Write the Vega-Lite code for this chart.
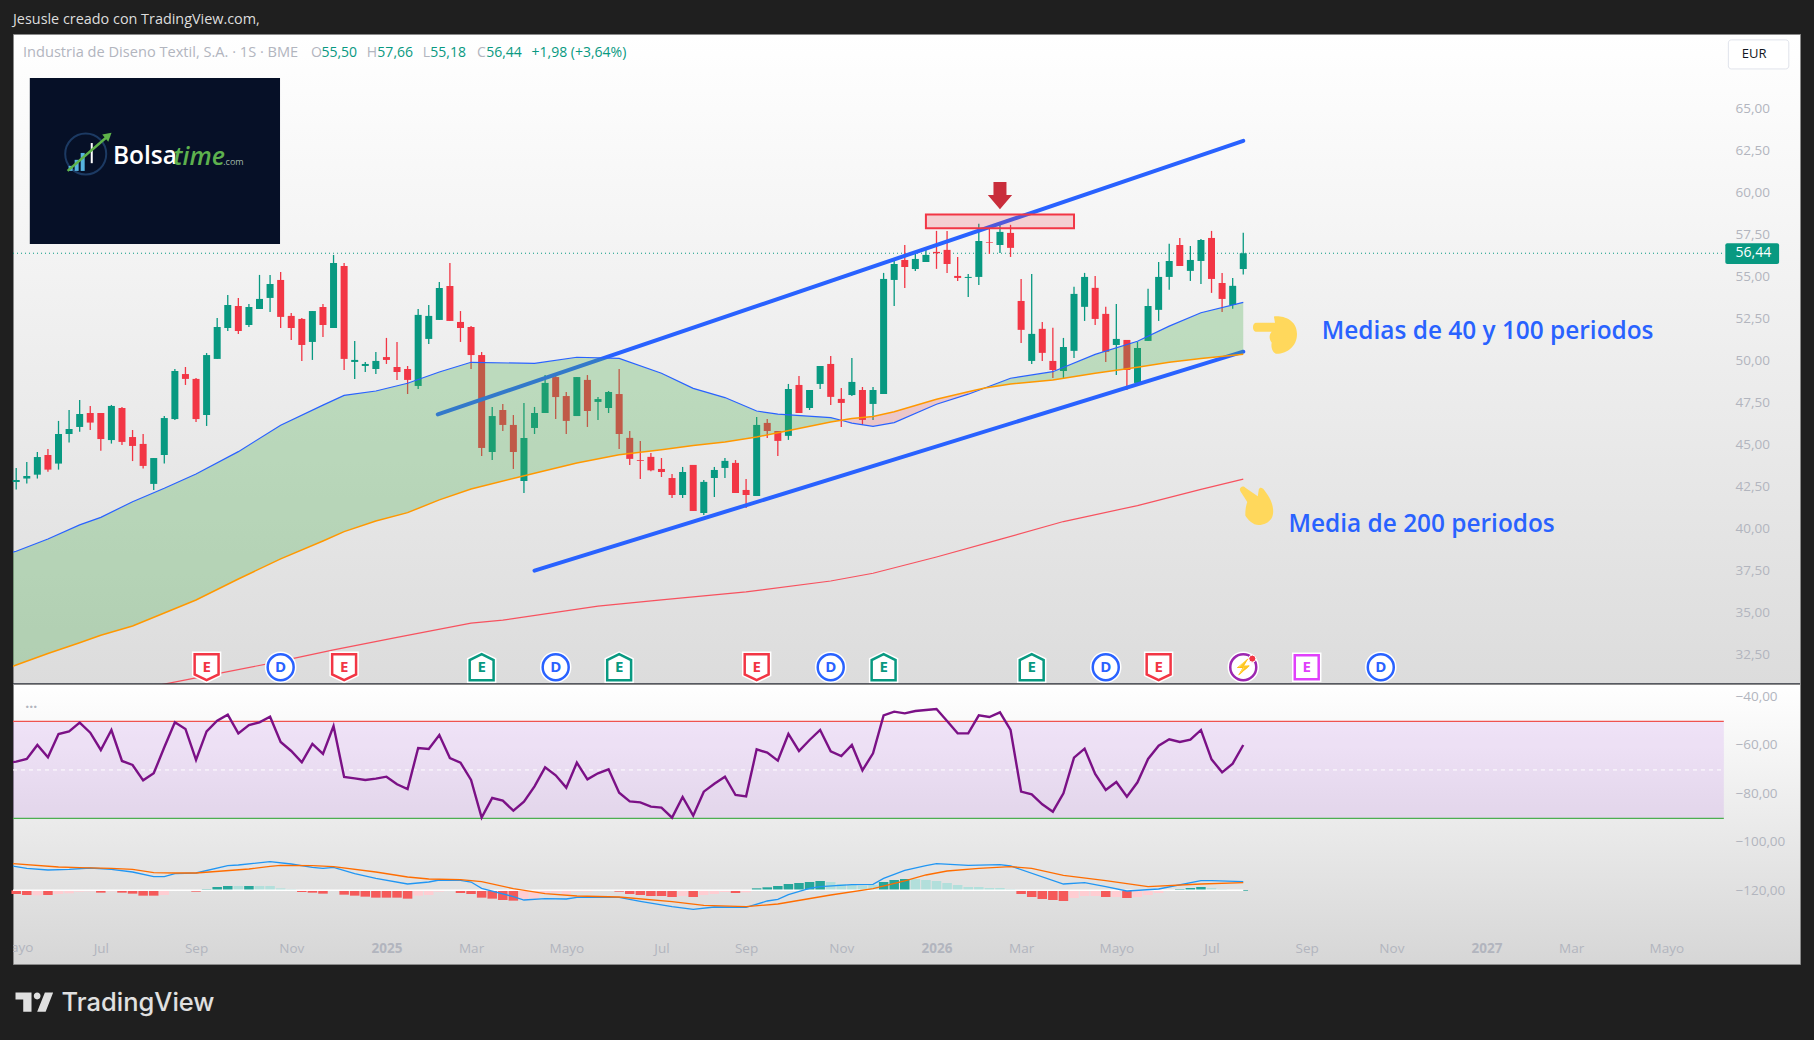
{
  "$schema": "https://vega.github.io/schema/vega-lite/v6.json",
  "background": "#1f1f1f",
  "padding": {"left": 10, "top": 11, "right": 17, "bottom": 27},
  "spacing": 0,
  "bounds": "flush",
  "config": {
    "font": "Open Sans",
    "axis": {"title": null, "grid": false, "domain": false, "ticks": false, "labelColor": "#b2b5be", "labelFont": "Open Sans", "labelFontSize": 13.5}
  },
  "datasets": {
    "velas": [
      {"d":"2024-05-06","o":42.83,"h":43.66,"l":42.37,"c":42.95},{"d":"2024-05-13","o":43.03,"h":44.02,"l":42.73,"c":43.18},{"d":"2024-05-20","o":43.26,"h":44.61,"l":43.03,"c":44.31},{"d":"2024-05-27","o":44.43,"h":44.79,"l":43.44,"c":43.56},{"d":"2024-06-03","o":43.92,"h":46.46,"l":43.56,"c":45.68},{"d":"2024-06-10","o":45.68,"h":47.11,"l":45.17,"c":45.98},{"d":"2024-06-17","o":46.10,"h":47.71,"l":45.82,"c":46.87},{"d":"2024-06-24","o":46.93,"h":47.35,"l":45.92,"c":46.36},{"d":"2024-07-01","o":46.93,"h":46.93,"l":44.69,"c":45.38},{"d":"2024-07-08","o":45.32,"h":47.41,"l":45.11,"c":47.35},{"d":"2024-07-15","o":47.23,"h":47.29,"l":45.03,"c":45.21},{"d":"2024-07-22","o":45.50,"h":45.92,"l":44.07,"c":44.97},{"d":"2024-07-29","o":45.09,"h":45.68,"l":43.62,"c":43.78},{"d":"2024-08-05","o":42.71,"h":44.25,"l":42.35,"c":44.25},{"d":"2024-08-12","o":44.43,"h":46.75,"l":43.92,"c":46.63},{"d":"2024-08-19","o":46.57,"h":49.55,"l":46.51,"c":49.43},{"d":"2024-08-26","o":49.25,"h":49.67,"l":48.60,"c":48.96},{"d":"2024-09-02","o":48.96,"h":49.01,"l":46.40,"c":46.57},{"d":"2024-09-09","o":46.81,"h":50.50,"l":46.16,"c":50.38},{"d":"2024-09-16","o":50.15,"h":52.59,"l":50.15,"c":52.05},{"d":"2024-09-23","o":51.99,"h":53.96,"l":51.81,"c":53.36},{"d":"2024-09-30","o":53.30,"h":53.78,"l":51.63,"c":51.81},{"d":"2024-10-07","o":52.17,"h":53.42,"l":52.05,"c":53.24},{"d":"2024-10-14","o":53.12,"h":55.15,"l":53.12,"c":53.72},{"d":"2024-10-21","o":53.78,"h":55.15,"l":52.94,"c":54.61},{"d":"2024-10-28","o":54.85,"h":55.32,"l":51.99,"c":52.65},{"d":"2024-11-04","o":52.71,"h":52.88,"l":51.28,"c":51.99},{"d":"2024-11-11","o":52.53,"h":52.59,"l":50.03,"c":50.98},{"d":"2024-11-18","o":51.16,"h":53.00,"l":50.09,"c":53.00},{"d":"2024-11-25","o":53.24,"h":53.42,"l":51.46,"c":52.17},{"d":"2024-12-02","o":51.99,"h":56.34,"l":51.99,"c":55.86},{"d":"2024-12-09","o":55.68,"h":55.86,"l":49.49,"c":50.15},{"d":"2024-12-16","o":49.97,"h":51.22,"l":48.96,"c":50.09},{"d":"2024-12-23","o":49.73,"h":49.97,"l":49.37,"c":49.85},{"d":"2024-12-30","o":49.55,"h":50.56,"l":49.25,"c":50.03},{"d":"2025-01-06","o":50.26,"h":51.40,"l":49.85,"c":50.09},{"d":"2025-01-13","o":49.67,"h":51.16,"l":48.90,"c":49.37},{"d":"2025-01-20","o":49.55,"h":49.73,"l":48.06,"c":48.90},{"d":"2025-01-27","o":48.54,"h":53.12,"l":48.36,"c":52.77},{"d":"2025-02-03","o":51.34,"h":53.36,"l":51.04,"c":52.71},{"d":"2025-02-10","o":52.47,"h":54.73,"l":52.47,"c":54.37},{"d":"2025-02-17","o":54.49,"h":55.86,"l":52.41,"c":52.41},{"d":"2025-02-24","o":52.35,"h":53.00,"l":51.16,"c":51.99},{"d":"2025-03-03","o":52.05,"h":52.11,"l":49.55,"c":50.38},{"d":"2025-03-10","o":50.38,"h":50.56,"l":44.37,"c":44.85},{"d":"2025-03-17","o":44.61,"h":47.29,"l":44.13,"c":46.75},{"d":"2025-03-24","o":47.11,"h":47.47,"l":45.86,"c":46.22},{"d":"2025-03-31","o":46.22,"h":46.81,"l":43.60,"c":44.61},{"d":"2025-04-07","o":42.88,"h":47.53,"l":42.17,"c":45.44},{"d":"2025-04-14","o":46.04,"h":47.29,"l":45.68,"c":46.93},{"d":"2025-04-21","o":46.93,"h":49.19,"l":46.93,"c":48.72},{"d":"2025-04-28","o":49.07,"h":49.31,"l":46.57,"c":47.88},{"d":"2025-05-05","o":47.94,"h":48.18,"l":45.68,"c":46.46},{"d":"2025-05-12","o":46.75,"h":49.07,"l":46.75,"c":49.07},{"d":"2025-05-19","o":48.90,"h":49.19,"l":46.10,"c":47.05},{"d":"2025-05-26","o":47.59,"h":47.88,"l":46.51,"c":47.76},{"d":"2025-06-02","o":47.23,"h":48.24,"l":46.93,"c":48.18},{"d":"2025-06-09","o":48.06,"h":49.55,"l":44.79,"c":45.68},{"d":"2025-06-16","o":45.45,"h":45.86,"l":43.84,"c":44.20},{"d":"2025-06-23","o":44.13,"h":45.27,"l":43.00,"c":44.08},{"d":"2025-06-30","o":44.32,"h":44.55,"l":43.46,"c":43.52},{"d":"2025-07-07","o":43.60,"h":44.25,"l":43.12,"c":43.42},{"d":"2025-07-14","o":43.06,"h":43.30,"l":41.87,"c":42.05},{"d":"2025-07-21","o":42.05,"h":43.72,"l":41.87,"c":43.42},{"d":"2025-07-28","o":43.84,"h":43.84,"l":41.10,"c":41.10},{"d":"2025-08-04","o":40.98,"h":42.94,"l":40.86,"c":42.83},{"d":"2025-08-11","o":43.06,"h":43.72,"l":41.93,"c":43.54},{"d":"2025-08-18","o":43.66,"h":44.25,"l":43.06,"c":44.08},{"d":"2025-08-25","o":43.96,"h":44.13,"l":42.17,"c":42.17},{"d":"2025-09-01","o":42.35,"h":43.00,"l":41.28,"c":42.05},{"d":"2025-09-08","o":41.99,"h":46.69,"l":41.99,"c":46.22},{"d":"2025-09-15","o":46.34,"h":46.58,"l":45.45,"c":45.86},{"d":"2025-09-22","o":45.86,"h":45.86,"l":44.37,"c":45.27},{"d":"2025-09-29","o":45.57,"h":48.66,"l":45.33,"c":48.36},{"d":"2025-10-06","o":48.60,"h":49.13,"l":46.93,"c":46.93},{"d":"2025-10-13","o":47.23,"h":48.30,"l":47.11,"c":48.30},{"d":"2025-10-20","o":48.66,"h":49.73,"l":48.36,"c":49.73},{"d":"2025-10-27","o":49.85,"h":50.33,"l":47.41,"c":47.89},{"d":"2025-11-03","o":47.77,"h":48.42,"l":46.10,"c":47.53},{"d":"2025-11-10","o":48.00,"h":50.21,"l":47.94,"c":48.78},{"d":"2025-11-17","o":48.30,"h":48.48,"l":46.22,"c":46.52},{"d":"2025-11-24","o":47.47,"h":48.48,"l":46.52,"c":48.30},{"d":"2025-12-01","o":48.06,"h":55.27,"l":48.06,"c":54.91},{"d":"2025-12-08","o":54.85,"h":56.04,"l":53.30,"c":55.80},{"d":"2025-12-15","o":56.04,"h":56.93,"l":54.37,"c":55.62},{"d":"2025-12-22","o":55.50,"h":56.40,"l":55.38,"c":56.10},{"d":"2025-12-29","o":55.92,"h":56.75,"l":55.92,"c":56.34},{"d":"2026-01-05","o":56.52,"h":57.77,"l":55.51,"c":56.44},{"d":"2026-01-12","o":56.64,"h":57.77,"l":55.27,"c":55.80},{"d":"2026-01-19","o":55.09,"h":56.22,"l":54.79,"c":54.97},{"d":"2026-01-26","o":54.97,"h":55.21,"l":53.84,"c":55.03},{"d":"2026-02-02","o":55.03,"h":58.19,"l":54.55,"c":57.17},{"d":"2026-02-09","o":57.11,"h":58.07,"l":56.40,"c":57.07},{"d":"2026-02-16","o":56.93,"h":58.30,"l":56.46,"c":57.71},{"d":"2026-02-23","o":57.65,"h":58.13,"l":56.22,"c":56.76},{"d":"2026-03-02","o":53.60,"h":54.91,"l":51.10,"c":51.88},{"d":"2026-03-09","o":50.03,"h":55.21,"l":49.85,"c":51.64},{"d":"2026-03-16","o":51.94,"h":52.35,"l":50.03,"c":50.51},{"d":"2026-03-23","o":50.03,"h":52.00,"l":49.02,"c":49.49},{"d":"2026-03-30","o":49.43,"h":51.40,"l":49.02,"c":50.86},{"d":"2026-04-06","o":50.63,"h":54.44,"l":50.21,"c":54.02},{"d":"2026-04-13","o":53.25,"h":55.27,"l":52.41,"c":55.03},{"d":"2026-04-20","o":54.38,"h":55.09,"l":52.17,"c":52.53},{"d":"2026-04-27","o":52.83,"h":53.25,"l":49.97,"c":50.57},{"d":"2026-05-04","o":50.98,"h":53.42,"l":49.20,"c":51.34},{"d":"2026-05-11","o":51.28,"h":51.28,"l":48.30,"c":49.49},{"d":"2026-05-18","o":48.72,"h":51.16,"l":48.72,"c":50.80},{"d":"2026-05-25","o":51.22,"h":54.32,"l":51.22,"c":53.30},{"d":"2026-06-01","o":53.07,"h":55.92,"l":52.41,"c":55.03},{"d":"2026-06-08","o":55.03,"h":57.00,"l":54.26,"c":55.98},{"d":"2026-06-15","o":56.93,"h":57.35,"l":55.68,"c":55.68},{"d":"2026-06-22","o":55.39,"h":56.87,"l":54.79,"c":56.04},{"d":"2026-06-29","o":55.98,"h":57.29,"l":54.61,"c":57.23},{"d":"2026-07-06","o":57.35,"h":57.77,"l":54.08,"c":54.91},{"d":"2026-07-13","o":54.67,"h":55.27,"l":52.95,"c":53.72},{"d":"2026-07-20","o":53.36,"h":54.97,"l":53.13,"c":54.50},{"d":"2026-07-27","o":55.50,"h":57.66,"l":55.18,"c":56.44}
    ],
    "medias": [
      {"d":"2024-04-29","ma40":38.54,"ma100":31.7,"zona":"sobre"},{"d":"2024-05-06","ma40":38.70,"ma100":31.93,"zona":"sobre"},{"d":"2024-05-27","ma40":39.43,"ma100":32.62,"zona":"sobre"},{"d":"2024-06-17","ma40":40.27,"ma100":33.26,"zona":"sobre"},{"d":"2024-07-01","ma40":40.72,"ma100":33.7,"zona":"sobre"},{"d":"2024-07-22","ma40":41.65,"ma100":34.25,"zona":"sobre"},{"d":"2024-08-12","ma40":42.45,"ma100":35.03,"zona":"sobre"},{"d":"2024-09-02","ma40":43.30,"ma100":35.80,"zona":"sobre"},{"d":"2024-09-30","ma40":44.63,"ma100":37.05,"zona":"sobre"},{"d":"2024-10-28","ma40":46.2,"ma100":38.25,"zona":"sobre"},{"d":"2024-11-25","ma40":47.4,"ma100":39.31,"zona":"sobre"},{"d":"2024-12-09","ma40":47.98,"ma100":39.87,"zona":"sobre"},{"d":"2024-12-30","ma40":48.24,"ma100":40.5,"zona":"sobre"},{"d":"2025-01-20","ma40":48.70,"ma100":41.0,"zona":"sobre"},{"d":"2025-02-10","ma40":49.37,"ma100":41.76,"zona":"sobre"},{"d":"2025-03-03","ma40":49.95,"ma100":42.41,"zona":"sobre"},{"d":"2025-04-14","ma40":49.88,"ma100":43.35,"zona":"sobre"},{"d":"2025-05-12","ma40":50.25,"ma100":43.95,"zona":"sobre"},{"d":"2025-06-09","ma40":50.18,"ma100":44.45,"zona":"sobre"},{"d":"2025-07-07","ma40":49.30,"ma100":44.75,"zona":"sobre"},{"d":"2025-07-28","ma40":48.40,"ma100":45.0,"zona":"sobre"},{"d":"2025-08-18","ma40":47.85,"ma100":45.2,"zona":"sobre"},{"d":"2025-09-08","ma40":47.05,"ma100":45.5,"zona":"sobre"},{"d":"2025-09-22","ma40":46.86,"ma100":45.75,"zona":"sobre"},{"d":"2025-10-27","ma40":46.66,"ma100":46.4,"zona":"sobre"},{"d":"2025-11-03","ma40":46.5,"ma100":46.5,"zona":"sobre"},
      {"d":"2025-11-03","ma40":46.5,"ma100":46.5,"zona":"bajo"},{"d":"2025-11-10","ma40":46.33,"ma100":46.6,"zona":"bajo"},{"d":"2025-11-24","ma40":46.14,"ma100":46.72,"zona":"bajo"},{"d":"2025-12-08","ma40":46.36,"ma100":47.0,"zona":"bajo"},{"d":"2026-01-05","ma40":47.45,"ma100":47.75,"zona":"bajo"},{"d":"2026-01-26","ma40":48.05,"ma100":48.2,"zona":"bajo"},{"d":"2026-02-06","ma40":48.42,"ma100":48.42,"zona":"bajo"},
      {"d":"2026-02-06","ma40":48.42,"ma100":48.42,"zona":"sobre"},{"d":"2026-02-23","ma40":49.0,"ma100":48.66,"zona":"sobre"},{"d":"2026-03-23","ma40":49.39,"ma100":48.9,"zona":"sobre"},{"d":"2026-04-20","ma40":50.42,"ma100":49.3,"zona":"sobre"},{"d":"2026-05-18","ma40":51.2,"ma100":49.65,"zona":"sobre"},{"d":"2026-06-08","ma40":52.1,"ma100":49.95,"zona":"sobre"},{"d":"2026-06-29","ma40":52.9,"ma100":50.18,"zona":"sobre"},{"d":"2026-07-27","ma40":53.52,"ma100":50.43,"zona":"sobre"}
    ],
    "media200": [
      {"d":"2024-07-29","p":30.55},{"d":"2024-09-02","p":31.16},{"d":"2024-10-21","p":32.03},{"d":"2024-12-02","p":32.83},{"d":"2025-01-13","p":33.58},{"d":"2025-03-03","p":34.42},{"d":"2025-03-24","p":34.6},{"d":"2025-05-26","p":35.44},{"d":"2025-07-07","p":35.81},{"d":"2025-09-01","p":36.28},{"d":"2025-10-27","p":36.93},{"d":"2025-11-24","p":37.39},{"d":"2026-01-05","p":38.36},{"d":"2026-02-16","p":39.41},{"d":"2026-03-30","p":40.47},{"d":"2026-05-18","p":41.42},{"d":"2026-06-29","p":42.38},{"d":"2026-07-27","p":42.99}
    ],
    "canales": [
      {"d":"2025-02-09","p":46.85,"canal":"alto"},{"d":"2026-07-27","p":63.13,"canal":"alto"},
      {"d":"2025-04-14","p":37.55,"canal":"bajo"},{"d":"2026-07-27","p":50.58,"canal":"bajo"}
    ],
    "eventos": [
      {"d":"2024-09-09","p":31.8,"tipo":"E-","letra":"E"},{"d":"2024-10-28","p":31.8,"tipo":"D","letra":"D"},{"d":"2024-12-09","p":31.8,"tipo":"E-","letra":"E"},{"d":"2025-03-10","p":31.8,"tipo":"E+","letra":"E"},{"d":"2025-04-28","p":31.8,"tipo":"D","letra":"D"},{"d":"2025-06-09","p":31.8,"tipo":"E+","letra":"E"},{"d":"2025-09-08","p":31.8,"tipo":"E-","letra":"E"},{"d":"2025-10-27","p":31.8,"tipo":"D","letra":"D"},{"d":"2025-12-01","p":31.8,"tipo":"E+","letra":"E"},{"d":"2026-03-09","p":31.8,"tipo":"E+","letra":"E"},{"d":"2026-04-27","p":31.8,"tipo":"D","letra":"D"},{"d":"2026-06-01","p":31.8,"tipo":"E-","letra":"E"},{"d":"2026-07-27","p":31.8,"tipo":"X","letra":"⚡"},{"d":"2026-09-07","p":31.8,"tipo":"E?","letra":"E"},{"d":"2026-10-26","p":31.8,"tipo":"D","letra":"D"}
    ],
    "cabecera": [
      {"d":"2024-11-17","p":68.35,"t":"O","tono":"gris"},{"d":"2024-11-24","p":68.35,"t":"55,50","tono":"verde"},
      {"d":"2024-12-24","p":68.35,"t":"H","tono":"gris"},{"d":"2024-12-31","p":68.35,"t":"57,66","tono":"verde"},
      {"d":"2025-01-30","p":68.35,"t":"L","tono":"gris"},{"d":"2025-02-04","p":68.35,"t":"55,18","tono":"verde"},
      {"d":"2025-03-07","p":68.35,"t":"C","tono":"gris"},{"d":"2025-03-13","p":68.35,"t":"56,44","tono":"verde"},
      {"d":"2025-04-12","p":68.35,"t":"+1,98 (+3,64%)","tono":"verde"}
    ],
    "rsi": [
      {"d":"2024-04-29","p":-67.27},{"d":"2024-05-06","p":-66.58},{"d":"2024-05-13","p":-65.48},{"d":"2024-05-20","p":-59.71},{"d":"2024-05-27","p":-64.80},{"d":"2024-06-03","p":-55.17},{"d":"2024-06-10","p":-54.07},{"d":"2024-06-17","p":-50.50},{"d":"2024-06-24","p":-54.62},{"d":"2024-07-01","p":-61.77},{"d":"2024-07-08","p":-53.53},{"d":"2024-07-15","p":-66.31},{"d":"2024-07-22","p":-67.96},{"d":"2024-07-29","p":-74.28},{"d":"2024-08-05","p":-71.39},{"d":"2024-08-12","p":-60.67},{"d":"2024-08-19","p":-50.36},{"d":"2024-08-26","p":-53.11},{"d":"2024-09-02","p":-65.90},{"d":"2024-09-09","p":-54.07},{"d":"2024-09-16","p":-49.68},{"d":"2024-09-23","p":-47.20},{"d":"2024-09-30","p":-54.90},{"d":"2024-10-07","p":-51.46},{"d":"2024-10-14","p":-50.36},{"d":"2024-10-21","p":-48.03},{"d":"2024-10-28","p":-58.47},{"d":"2024-11-04","p":-62.18},{"d":"2024-11-11","p":-66.86},{"d":"2024-11-18","p":-59.30},{"d":"2024-11-25","p":-63.42},{"d":"2024-12-02","p":-51.88},{"d":"2024-12-09","p":-72.91},{"d":"2024-12-16","p":-73.46},{"d":"2024-12-23","p":-74.14},{"d":"2024-12-30","p":-73.59},{"d":"2025-01-06","p":-72.77},{"d":"2025-01-13","p":-75.93},{"d":"2025-01-20","p":-77.85},{"d":"2025-01-27","p":-60.95},{"d":"2025-02-03","p":-61.36},{"d":"2025-02-10","p":-55.59},{"d":"2025-02-17","p":-65.07},{"d":"2025-02-24","p":-67.0},{"d":"2025-03-03","p":-74.14},{"d":"2025-03-10","p":-89.68},{"d":"2025-03-17","p":-81.57},{"d":"2025-03-24","p":-82.67},{"d":"2025-03-31","p":-86.79},{"d":"2025-04-07","p":-83.08},{"d":"2025-04-14","p":-76.76},{"d":"2025-04-21","p":-68.92},{"d":"2025-04-28","p":-72.22},{"d":"2025-05-05","p":-77.30},{"d":"2025-05-12","p":-67.0},{"d":"2025-05-19","p":-73.87},{"d":"2025-05-26","p":-71.39},{"d":"2025-06-02","p":-69.74},{"d":"2025-06-09","p":-79.37},{"d":"2025-06-16","p":-82.94},{"d":"2025-06-23","p":-83.35},{"d":"2025-06-30","p":-85.14},{"d":"2025-07-07","p":-85.55},{"d":"2025-07-14","p":-89.68},{"d":"2025-07-21","p":-81.15},{"d":"2025-07-28","p":-88.85},{"d":"2025-08-04","p":-78.95},{"d":"2025-08-11","p":-75.66},{"d":"2025-08-18","p":-72.77},{"d":"2025-08-25","p":-80.33},{"d":"2025-09-01","p":-80.88},{"d":"2025-09-08","p":-61.50},{"d":"2025-09-15","p":-62.87},{"d":"2025-09-22","p":-66.17},{"d":"2025-09-29","p":-55.17},{"d":"2025-10-06","p":-62.18},{"d":"2025-10-13","p":-57.65},{"d":"2025-10-20","p":-53.52},{"d":"2025-10-27","p":-62.32},{"d":"2025-11-03","p":-64.25},{"d":"2025-11-10","p":-59.71},{"d":"2025-11-17","p":-70.16},{"d":"2025-11-24","p":-63.15},{"d":"2025-12-01","p":-47.48},{"d":"2025-12-08","p":-45.96},{"d":"2025-12-15","p":-46.65},{"d":"2025-12-22","p":-45.69},{"d":"2025-12-29","p":-45.28},{"d":"2026-01-05","p":-44.87},{"d":"2026-01-12","p":-49.81},{"d":"2026-01-19","p":-54.90},{"d":"2026-01-26","p":-54.90},{"d":"2026-02-02","p":-47.48},{"d":"2026-02-09","p":-48.16},{"d":"2026-02-16","p":-46.24},{"d":"2026-02-23","p":-53.52},{"d":"2026-03-02","p":-78.95},{"d":"2026-03-09","p":-80.05},{"d":"2026-03-16","p":-84.18},{"d":"2026-03-23","p":-87.20},{"d":"2026-03-30","p":-79.64},{"d":"2026-04-06","p":-64.93},{"d":"2026-04-13","p":-61.22},{"d":"2026-04-20","p":-71.67},{"d":"2026-04-27","p":-78.27},{"d":"2026-05-04","p":-74.97},{"d":"2026-05-11","p":-81.02},{"d":"2026-05-18","p":-75.11},{"d":"2026-05-25","p":-65.48},{"d":"2026-06-01","p":-59.99},{"d":"2026-06-08","p":-57.37},{"d":"2026-06-15","p":-58.47},{"d":"2026-06-22","p":-57.51},{"d":"2026-06-29","p":-53.52},{"d":"2026-07-06","p":-65.62},{"d":"2026-07-13","p":-70.98},{"d":"2026-07-20","p":-67.41},{"d":"2026-07-27","p":-59.71}
    ],
    "macd": [
      {"d":"2024-04-29","p":-109.19,"serie":"macd"},{"d":"2024-05-13","p":-110.57,"serie":"macd"},{"d":"2024-05-27","p":-111.26,"serie":"macd"},{"d":"2024-06-10","p":-110.98,"serie":"macd"},{"d":"2024-06-24","p":-110.43,"serie":"macd"},{"d":"2024-07-08","p":-110.98,"serie":"macd"},{"d":"2024-07-22","p":-112.08,"serie":"macd"},{"d":"2024-08-05","p":-114.01,"serie":"macd"},{"d":"2024-08-12","p":-114.01,"serie":"macd"},{"d":"2024-08-19","p":-112.77,"serie":"macd"},{"d":"2024-09-02","p":-112.49,"serie":"macd"},{"d":"2024-09-23","p":-109.47,"serie":"macd"},{"d":"2024-09-30","p":-109.19,"serie":"macd"},{"d":"2024-10-21","p":-107.82,"serie":"macd"},{"d":"2024-11-04","p":-108.78,"serie":"macd"},{"d":"2024-11-18","p":-110.16,"serie":"macd"},{"d":"2024-11-25","p":-110.57,"serie":"macd"},{"d":"2024-12-02","p":-110.16,"serie":"macd"},{"d":"2024-12-16","p":-112.77,"serie":"macd"},{"d":"2024-12-30","p":-114.69,"serie":"macd"},{"d":"2025-01-20","p":-117.03,"serie":"macd"},{"d":"2025-02-03","p":-116.21,"serie":"macd"},{"d":"2025-02-10","p":-115.38,"serie":"macd"},{"d":"2025-02-24","p":-115.52,"serie":"macd"},{"d":"2025-03-03","p":-116.21,"serie":"macd"},{"d":"2025-03-10","p":-118.82,"serie":"macd"},{"d":"2025-03-31","p":-122.25,"serie":"macd"},{"d":"2025-04-07","p":-123.63,"serie":"macd"},{"d":"2025-04-21","p":-123.08,"serie":"macd"},{"d":"2025-05-05","p":-123.22,"serie":"macd"},{"d":"2025-05-12","p":-122.53,"serie":"macd"},{"d":"2025-06-09","p":-122.53,"serie":"macd"},{"d":"2025-06-23","p":-124.18,"serie":"macd"},{"d":"2025-07-14","p":-126.38,"serie":"macd"},{"d":"2025-07-28","p":-127.48,"serie":"macd"},{"d":"2025-08-11","p":-126.51,"serie":"macd"},{"d":"2025-09-01","p":-126.65,"serie":"macd"},{"d":"2025-09-15","p":-124.04,"serie":"macd"},{"d":"2025-09-22","p":-123.35,"serie":"macd"},{"d":"2025-09-29","p":-121.43,"serie":"macd"},{"d":"2025-10-13","p":-118.82,"serie":"macd"},{"d":"2025-10-20","p":-118.13,"serie":"macd"},{"d":"2025-11-10","p":-117.30,"serie":"macd"},{"d":"2025-11-24","p":-117.17,"serie":"macd"},{"d":"2025-12-01","p":-114.69,"serie":"macd"},{"d":"2025-12-15","p":-111.39,"serie":"macd"},{"d":"2025-12-29","p":-109.47,"serie":"macd"},{"d":"2026-01-05","p":-108.65,"serie":"macd"},{"d":"2026-01-26","p":-109.33,"serie":"macd"},{"d":"2026-02-16","p":-109.06,"serie":"macd"},{"d":"2026-02-23","p":-109.61,"serie":"macd"},{"d":"2026-03-30","p":-117.03,"serie":"macd"},{"d":"2026-04-13","p":-116.48,"serie":"macd"},{"d":"2026-04-27","p":-118.13,"serie":"macd"},{"d":"2026-05-11","p":-119.92,"serie":"macd"},{"d":"2026-06-01","p":-119.09,"serie":"macd"},{"d":"2026-06-29","p":-115.66,"serie":"macd"},{"d":"2026-07-06","p":-115.66,"serie":"macd"},{"d":"2026-07-27","p":-116.07,"serie":"macd"},
      {"d":"2024-04-29","p":-108.37,"serie":"senal"},{"d":"2024-06-03","p":-110.02,"serie":"senal"},{"d":"2024-06-17","p":-110.29,"serie":"senal"},{"d":"2024-07-08","p":-110.57,"serie":"senal"},{"d":"2024-07-22","p":-110.98,"serie":"senal"},{"d":"2024-08-05","p":-112.36,"serie":"senal"},{"d":"2024-08-19","p":-112.49,"serie":"senal"},{"d":"2024-09-02","p":-112.49,"serie":"senal"},{"d":"2024-10-07","p":-110.84,"serie":"senal"},{"d":"2024-10-21","p":-109.75,"serie":"senal"},{"d":"2024-10-28","p":-109.33,"serie":"senal"},{"d":"2024-11-18","p":-109.47,"serie":"senal"},{"d":"2024-12-02","p":-109.88,"serie":"senal"},{"d":"2024-12-30","p":-112.08,"serie":"senal"},{"d":"2025-01-20","p":-114.14,"serie":"senal"},{"d":"2025-02-03","p":-114.97,"serie":"senal"},{"d":"2025-02-24","p":-115.24,"serie":"senal"},{"d":"2025-03-10","p":-116.07,"serie":"senal"},{"d":"2025-03-31","p":-118.95,"serie":"senal"},{"d":"2025-04-21","p":-121.02,"serie":"senal"},{"d":"2025-05-12","p":-121.98,"serie":"senal"},{"d":"2025-06-09","p":-122.39,"serie":"senal"},{"d":"2025-07-14","p":-124.32,"serie":"senal"},{"d":"2025-08-04","p":-125.83,"serie":"senal"},{"d":"2025-09-01","p":-126.38,"serie":"senal"},{"d":"2025-09-22","p":-125.28,"serie":"senal"},{"d":"2025-10-27","p":-121.57,"serie":"senal"},{"d":"2025-11-24","p":-118.95,"serie":"senal"},{"d":"2025-12-15","p":-115.79,"serie":"senal"},{"d":"2025-12-29","p":-113.32,"serie":"senal"},{"d":"2026-01-12","p":-111.67,"serie":"senal"},{"d":"2026-02-02","p":-110.57,"serie":"senal"},{"d":"2026-02-23","p":-109.88,"serie":"senal"},{"d":"2026-03-09","p":-110.57,"serie":"senal"},{"d":"2026-03-30","p":-113.46,"serie":"senal"},{"d":"2026-04-27","p":-115.66,"serie":"senal"},{"d":"2026-05-25","p":-118.13,"serie":"senal"},{"d":"2026-06-29","p":-117.03,"serie":"senal"},{"d":"2026-07-27","p":-116.48,"serie":"senal"}
    ],
    "hist": [
      {"d":"2024-05-06","p":-121.15,"tono":"S"},{"d":"2024-05-13","p":-121.56,"tono":"S"},{"d":"2024-05-20","p":-121.70,"tono":"L"},{"d":"2024-05-27","p":-121.56,"tono":"S"},{"d":"2024-06-03","p":-121.15,"tono":"L"},{"d":"2024-06-10","p":-120.88,"tono":"L"},{"d":"2024-06-17","p":-120.19,"tono":"L"},{"d":"2024-06-24","p":-120.05,"tono":"L"},{"d":"2024-07-01","p":-120.60,"tono":"S"},{"d":"2024-07-08","p":-120.05,"tono":"L"},{"d":"2024-07-15","p":-120.60,"tono":"S"},{"d":"2024-07-22","p":-121.01,"tono":"S"},{"d":"2024-07-29","p":-121.84,"tono":"S"},{"d":"2024-08-05","p":-121.84,"tono":"S"},{"d":"2024-08-12","p":-121.56,"tono":"L"},{"d":"2024-08-19","p":-119.91,"tono":"L"},{"d":"2024-08-26","p":-119.78,"tono":"L"},{"d":"2024-09-02","p":-120.19,"tono":"S"},{"d":"2024-09-09","p":-119.23,"tono":"GS"},{"d":"2024-09-16","p":-118.27,"tono":"GS"},{"d":"2024-09-23","p":-117.85,"tono":"GS"},{"d":"2024-09-30","p":-117.85,"tono":"GL"},{"d":"2024-10-07","p":-117.85,"tono":"GS"},{"d":"2024-10-14","p":-117.85,"tono":"GL"},{"d":"2024-10-21","p":-117.85,"tono":"GL"},{"d":"2024-10-28","p":-118.82,"tono":"GL"},{"d":"2024-11-04","p":-119.23,"tono":"GL"},{"d":"2024-11-11","p":-120.33,"tono":"S"},{"d":"2024-11-18","p":-120.60,"tono":"S"},{"d":"2024-11-25","p":-121.01,"tono":"S"},{"d":"2024-12-02","p":-119.91,"tono":"L"},{"d":"2024-12-09","p":-121.43,"tono":"S"},{"d":"2024-12-16","p":-121.84,"tono":"S"},{"d":"2024-12-23","p":-122.25,"tono":"S"},{"d":"2024-12-30","p":-122.66,"tono":"S"},{"d":"2025-01-06","p":-122.66,"tono":"S"},{"d":"2025-01-13","p":-122.66,"tono":"S"},{"d":"2025-01-20","p":-123.08,"tono":"S"},{"d":"2025-01-27","p":-121.84,"tono":"L"},{"d":"2025-02-03","p":-121.56,"tono":"L"},{"d":"2025-02-10","p":-120.19,"tono":"L"},{"d":"2025-02-17","p":-119.91,"tono":"L"},{"d":"2025-02-24","p":-120.74,"tono":"S"},{"d":"2025-03-03","p":-121.15,"tono":"S"},{"d":"2025-03-10","p":-122.66,"tono":"S"},{"d":"2025-03-17","p":-123.08,"tono":"S"},{"d":"2025-03-24","p":-123.63,"tono":"S"},{"d":"2025-03-31","p":-123.90,"tono":"S"},{"d":"2025-04-07","p":-123.08,"tono":"L"},{"d":"2025-04-14","p":-123.08,"tono":"L"},{"d":"2025-04-21","p":-121.15,"tono":"L"},{"d":"2025-04-28","p":-120.60,"tono":"L"},{"d":"2025-05-05","p":-121.15,"tono":"L"},{"d":"2025-05-12","p":-120.19,"tono":"L"},{"d":"2025-05-19","p":-120.19,"tono":"L"},{"d":"2025-05-26","p":-119.78,"tono":"L"},{"d":"2025-06-02","p":-119.91,"tono":"L"},{"d":"2025-06-09","p":-120.19,"tono":"S"},{"d":"2025-06-16","p":-121.15,"tono":"S"},{"d":"2025-06-23","p":-121.56,"tono":"S"},{"d":"2025-06-30","p":-121.98,"tono":"S"},{"d":"2025-07-07","p":-121.98,"tono":"S"},{"d":"2025-07-14","p":-122.39,"tono":"S"},{"d":"2025-07-21","p":-121.98,"tono":"L"},{"d":"2025-07-28","p":-122.39,"tono":"S"},{"d":"2025-08-04","p":-121.56,"tono":"L"},{"d":"2025-08-11","p":-121.15,"tono":"L"},{"d":"2025-08-18","p":-120.33,"tono":"L"},{"d":"2025-08-25","p":-120.74,"tono":"S"},{"d":"2025-09-01","p":-120.46,"tono":"L"},{"d":"2025-09-08","p":-118.82,"tono":"GS"},{"d":"2025-09-15","p":-118.40,"tono":"GS"},{"d":"2025-09-22","p":-117.85,"tono":"GS"},{"d":"2025-09-29","p":-117.03,"tono":"GS"},{"d":"2025-10-06","p":-116.62,"tono":"GS"},{"d":"2025-10-13","p":-116.20,"tono":"GS"},{"d":"2025-10-20","p":-115.79,"tono":"GS"},{"d":"2025-10-27","p":-116.20,"tono":"GL"},{"d":"2025-11-03","p":-117.03,"tono":"GL"},{"d":"2025-11-10","p":-117.44,"tono":"GL"},{"d":"2025-11-17","p":-117.72,"tono":"GL"},{"d":"2025-11-24","p":-117.44,"tono":"GL"},{"d":"2025-12-01","p":-116.20,"tono":"GS"},{"d":"2025-12-08","p":-115.38,"tono":"GS"},{"d":"2025-12-15","p":-114.97,"tono":"GS"},{"d":"2025-12-22","p":-114.97,"tono":"GL"},{"d":"2025-12-29","p":-115.38,"tono":"GL"},{"d":"2026-01-05","p":-115.79,"tono":"GL"},{"d":"2026-01-12","p":-116.62,"tono":"GL"},{"d":"2026-01-19","p":-117.44,"tono":"GL"},{"d":"2026-01-26","p":-118.27,"tono":"GL"},{"d":"2026-02-02","p":-118.27,"tono":"GL"},{"d":"2026-02-09","p":-118.68,"tono":"GL"},{"d":"2026-02-16","p":-118.68,"tono":"GL"},{"d":"2026-02-23","p":-119.23,"tono":"GL"},{"d":"2026-03-02","p":-121.15,"tono":"S"},{"d":"2026-03-09","p":-122.39,"tono":"S"},{"d":"2026-03-16","p":-123.21,"tono":"S"},{"d":"2026-03-23","p":-123.63,"tono":"S"},{"d":"2026-03-30","p":-124.04,"tono":"S"},{"d":"2026-04-06","p":-122.80,"tono":"L"},{"d":"2026-04-13","p":-121.98,"tono":"L"},{"d":"2026-04-20","p":-121.98,"tono":"L"},{"d":"2026-04-27","p":-122.39,"tono":"S"},{"d":"2026-05-04","p":-122.39,"tono":"L"},{"d":"2026-05-11","p":-122.80,"tono":"S"},{"d":"2026-05-18","p":-122.39,"tono":"L"},{"d":"2026-05-25","p":-121.56,"tono":"L"},{"d":"2026-06-01","p":-120.74,"tono":"L"},{"d":"2026-06-15","p":-119.09,"tono":"GS"},{"d":"2026-06-22","p":-118.68,"tono":"GS"},{"d":"2026-06-29","p":-118.27,"tono":"GS"},{"d":"2026-07-06","p":-118.68,"tono":"GL"},{"d":"2026-07-13","p":-119.23,"tono":"GL"},{"d":"2026-07-20","p":-119.50,"tono":"GL"},{"d":"2026-07-27","p":-119.91,"tono":"GS"}
    ]
  },
  "vconcat": [
    {
      "width": 1787,
      "height": 650,
      "view": {
        "stroke": "#8a8a8a",
        "fill": {"gradient": "linear", "x1": 0, "y1": 0, "x2": 0, "y2": 1, "stops": [{"offset": 0, "color": "#ffffff"}, {"offset": 1, "color": "#dcdcdc"}]}
      },
      "resolve": {"scale": {"color": "independent", "stroke": "independent"}},
      "encoding": {
        "x": {"field": "d", "type": "temporal", "axis": null, "scale": {"domain": ["2024-05-03T21:10:00", "2027-07-30T10:00:00"], "nice": false, "padding": 0}},
        "y": {
          "field": "p", "type": "quantitative",
          "scale": {"domain": [30.8, 69.49], "nice": false},
          "axis": {"orient": "right", "offset": -65, "labelPadding": 0, "labelAlign": "left", "labelOffset": -1, "values": [32.5, 35, 37.5, 40, 42.5, 45, 47.5, 50, 52.5, 55, 57.5, 60, 62.5, 65], "labelExpr": "replace(format(datum.value, '.2f'), '.', ',')"}
        }
      },
      "layer": [
        {
          "data": {"values": [{"d": "2024-05-03T21:10:00", "d2": "2027-06-10", "p": 56.44}]},
          "mark": {"type": "rule", "color": "#089981", "strokeWidth": 1, "strokeDash": [1, 3]},
          "encoding": {"x2": {"field": "d2"}}
        },
        {
          "data": {"values": [{"d": "2024-05-15", "d2": "2024-10-27T14:00:00", "p": 66.875, "p2": 56.99}]},
          "mark": {"type": "rect", "color": "#061027"},
          "encoding": {"x2": {"field": "d2"}, "y2": {"field": "p2"}}
        },
        {
          "data": {"values": [{"d": "2024-06-21", "p": 62.35}]},
          "mark": {"type": "point", "size": 1681, "stroke": "#1c3a63", "strokeWidth": 2, "opacity": 1}
        },
        {
          "data": {"values": [{"d": "2024-06-11", "p": 61.64, "p2": 61.34}, {"d": "2024-06-15", "p": 62.0, "p2": 61.34}, {"d": "2024-06-19", "p": 62.41, "p2": 61.34}]},
          "mark": {"type": "bar", "size": 4, "color": "#56b4e0"},
          "encoding": {"y2": {"field": "p2"}}
        },
        {
          "data": {"values": [{"d": "2024-06-25", "p": 63.0, "p2": 61.8}]},
          "mark": {"type": "rule", "color": "#ffffff", "strokeWidth": 2},
          "encoding": {"y2": {"field": "p2"}}
        },
        {
          "data": {"values": [{"d": "2024-06-09", "p": 61.34}, {"d": "2024-07-05", "p": 63.36}]},
          "mark": {"type": "line", "color": "#5fb34a", "strokeWidth": 2.5}
        },
        {
          "data": {"values": [{"d": "2024-07-06", "p": 63.45}]},
          "mark": {"type": "point", "shape": "triangle-up", "angle": 50, "size": 90, "filled": true, "color": "#5fb34a", "opacity": 1}
        },
        {
          "data": {"values": [{"d": "2024-07-09", "p": 62.19, "t": "Bolsa"}]},
          "mark": {"type": "text", "align": "left", "baseline": "middle", "font": "Open Sans", "fontSize": 24.5, "fontWeight": 600, "color": "#ffffff"},
          "encoding": {"text": {"field": "t"}}
        },
        {
          "data": {"values": [{"d": "2024-08-18", "p": 62.19, "t": "time"}]},
          "mark": {"type": "text", "align": "left", "baseline": "middle", "font": "Open Sans", "fontSize": 25, "fontWeight": 600, "fontStyle": "italic", "color": "#5db14e"},
          "encoding": {"text": {"field": "t"}}
        },
        {
          "data": {"values": [{"d": "2024-09-20", "p": 61.88, "t": ".com"}]},
          "mark": {"type": "text", "align": "left", "baseline": "middle", "font": "Open Sans", "fontSize": 9, "color": "#9fb5a6"},
          "encoding": {"text": {"field": "t"}}
        },
        {
          "data": {"name": "velas"},
          "mark": {"type": "rule", "strokeWidth": 1.3},
          "encoding": {
            "y": {"field": "h", "type": "quantitative"},
            "y2": {"field": "l"},
            "color": {"condition": {"test": "datum.c >= datum.o", "value": "#089981"}, "value": "#f23645"}
          }
        },
        {
          "data": {"name": "velas"},
          "mark": {"type": "bar", "size": 7},
          "encoding": {
            "y": {"field": "o", "type": "quantitative"},
            "y2": {"field": "c"},
            "color": {"condition": {"test": "datum.c >= datum.o", "value": "#089981"}, "value": "#f23645"}
          }
        },
        {
          "data": {"name": "canales"},
          "mark": {"type": "line", "color": "#2962ff", "strokeWidth": 4, "strokeCap": "round"},
          "encoding": {"detail": {"field": "canal"}}
        },
        {
          "data": {"name": "medias"},
          "mark": {"type": "area", "clip": true},
          "encoding": {
            "y": {"field": "ma40", "type": "quantitative"},
            "y2": {"field": "ma100"},
            "color": {"field": "zona", "type": "nominal", "legend": null, "scale": {"domain": ["sobre", "bajo"], "range": ["rgba(76,175,80,0.3)", "rgba(242,54,69,0.2)"]}}
          }
        },
        {
          "data": {"name": "medias"},
          "mark": {"type": "line", "color": "#2962ff", "strokeWidth": 1.2, "clip": true},
          "encoding": {"y": {"field": "ma40", "type": "quantitative"}}
        },
        {
          "data": {"name": "medias"},
          "mark": {"type": "line", "color": "#ff9800", "strokeWidth": 1.5, "clip": true},
          "encoding": {"y": {"field": "ma100", "type": "quantitative"}}
        },
        {
          "data": {"name": "media200"},
          "mark": {"type": "line", "color": "#f7525f", "strokeWidth": 1.2, "clip": true}
        },
        {
          "data": {"values": [{"d": "2025-12-29", "d2": "2026-04-06", "p": 58.74, "p2": 57.93}]},
          "mark": {"type": "rect", "fill": "#f23645", "fillOpacity": 0.2, "stroke": "#f23645", "strokeWidth": 2},
          "encoding": {"x2": {"field": "d2"}, "y2": {"field": "p2"}}
        },
        {
          "data": {"values": [{"d": "2026-02-16", "p": 59.87}]},
          "mark": {"type": "point", "shape": "M-0.476,-1 L0.476,-1 L0.476,-0.05 L0.89,-0.05 L0,1 L-0.89,-0.05 L-0.476,-0.05 Z", "size": 745, "filled": true, "color": "#c92d3b", "opacity": 1}
        },
        {
          "data": {"values": [{"d": "2026-08-17", "p": 51.76}]},
          "mark": {"type": "point", "shape": "M-1,-0.2 C-1,-0.4 -0.9,-0.42 -0.8,-0.42 L0.0,-0.42 L-0.05,-0.7 C0.3,-0.75 1,-0.6 1,0.1 C1,0.7 0.5,1 0.1,1 C-0.1,1 -0.2,0.7 -0.15,0.5 C-0.3,0.3 -0.25,0.1 -0.15,0 L-0.8,0 C-0.9,0 -1,-0.05 -1,-0.2 Z", "size": 1936, "filled": true, "color": "#ffd85c", "opacity": 1}
        },
        {
          "data": {"values": [{"d": "2026-08-05", "p": 41.4}]},
          "mark": {"type": "point", "shape": "M-0.85,-0.95 C-0.75,-1.05 -0.65,-1 -0.6,-0.95 L0.05,-0.5 L0.1,-0.85 C0.15,-1 0.3,-0.95 0.4,-0.8 C0.7,-0.4 0.85,-0.1 0.85,0.3 C0.85,0.8 0.4,1 0.1,1 C-0.2,1 -0.5,0.7 -0.6,0.5 C-0.6,0.3 -0.6,0.1 -0.5,-0.2 L-0.85,-0.75 C-0.9,-0.85 -0.9,-0.9 -0.85,-0.95 Z", "size": 1475, "filled": true, "color": "#ffd85c", "opacity": 1}
        },
        {
          "data": {"values": [{"d": "2026-09-17", "p": 51.77, "t": "Medias de 40 y 100 periodos"}, {"d": "2026-08-26", "p": 40.27, "t": "Media de 200 periodos"}]},
          "mark": {"type": "text", "align": "left", "baseline": "middle", "font": "Open Sans", "fontSize": 24.4, "fontWeight": 600, "color": "#2962ff"},
          "encoding": {"text": {"field": "t"}}
        },
        {
          "data": {"name": "eventos"},
          "mark": {"type": "point", "filled": false, "size": 676, "stroke": "#ffffff", "strokeWidth": 5.5, "opacity": 1},
          "encoding": {
            "shape": {"field": "tipo", "type": "nominal", "legend": null, "scale": {"domain": ["E-", "E+", "E?", "D", "X"], "range": ["M-0.92,-1 L0.92,-1 L0.92,0.55 L0,1 L-0.92,0.55 Z", "M0,-1 L0.92,-0.55 L0.92,1 L-0.92,1 L-0.92,-0.55 Z", "M-0.92,-0.92 L0.92,-0.92 L0.92,0.92 L-0.92,0.92 Z", "circle", "circle"]}}
          }
        },
        {
          "data": {"name": "eventos"},
          "mark": {"type": "point", "filled": true, "fill": "#ffffff", "size": 676, "strokeWidth": 2.5, "opacity": 1},
          "encoding": {
            "shape": {"field": "tipo", "type": "nominal", "legend": null, "scale": {"domain": ["E-", "E+", "E?", "D", "X"], "range": ["M-0.92,-1 L0.92,-1 L0.92,0.55 L0,1 L-0.92,0.55 Z", "M0,-1 L0.92,-0.55 L0.92,1 L-0.92,1 L-0.92,-0.55 Z", "M-0.92,-0.92 L0.92,-0.92 L0.92,0.92 L-0.92,0.92 Z", "circle", "circle"]}},
            "stroke": {"field": "tipo", "type": "nominal", "legend": null, "scale": {"domain": ["E-", "E+", "E?", "D", "X"], "range": ["#f23645", "#089981", "#e040fb", "#2962ff", "#9c27b0"]}}
          }
        },
        {
          "data": {"name": "eventos"},
          "mark": {"type": "text", "font": "Open Sans", "fontSize": 15, "fontWeight": 700, "baseline": "middle"},
          "encoding": {
            "text": {"field": "letra"},
            "color": {"field": "tipo", "type": "nominal", "legend": null, "scale": {"domain": ["E-", "E+", "E?", "D", "X"], "range": ["#f23645", "#089981", "#e040fb", "#2962ff", "#9c27b0"]}}
          }
        },
        {
          "data": {"values": [{"d": "2026-08-02", "p": 32.31}]},
          "mark": {"type": "point", "filled": true, "size": 50, "color": "#f23645", "stroke": "#ffffff", "strokeWidth": 1, "opacity": 1}
        },
        {
          "data": {"values": [{"d": "2024-05-10T12:00:00", "p": 68.35, "t": "Industria de Diseno Textil, S.A. · 1S · BME"}]},
          "mark": {"type": "text", "align": "left", "baseline": "middle", "font": "Open Sans", "fontSize": 14.6, "color": "#b2b5be"},
          "encoding": {"text": {"field": "t"}}
        },
        {
          "data": {"name": "cabecera"},
          "mark": {"type": "text", "align": "left", "baseline": "middle", "font": "Open Sans", "fontSize": 14},
          "encoding": {
            "text": {"field": "t"},
            "color": {"field": "tono", "type": "nominal", "legend": null, "scale": {"domain": ["gris", "verde"], "range": ["#b2b5be", "#089981"]}}
          }
        },
        {
          "data": {"values": [{"d": "2027-06-13", "d2": "2027-07-23", "p": 69.14, "p2": 67.41}]},
          "mark": {"type": "rect", "fill": "#ffffff", "stroke": "#e0e3eb", "strokeWidth": 1, "cornerRadius": 3},
          "encoding": {"x2": {"field": "d2"}, "y2": {"field": "p2"}}
        },
        {
          "data": {"values": [{"d": "2027-06-30", "p": 68.3, "t": "EUR"}]},
          "mark": {"type": "text", "baseline": "middle", "font": "Open Sans", "fontSize": 13, "color": "#131722"},
          "encoding": {"text": {"field": "t"}}
        },
        {
          "data": {"values": [{"d": "2027-06-11", "d2": "2027-07-16T14:00:00", "p": 57.04, "p2": 55.8}]},
          "mark": {"type": "rect", "color": "#089981", "cornerRadius": 2},
          "encoding": {"x2": {"field": "d2"}, "y2": {"field": "p2"}}
        },
        {
          "data": {"values": [{"d": "2027-06-29T14:00:00", "p": 56.44, "t": "56,44"}]},
          "mark": {"type": "text", "baseline": "middle", "font": "Open Sans", "fontSize": 14, "color": "#ffffff"},
          "encoding": {"text": {"field": "t"}}
        },
        {
          "data": {"values": [{"d": "2024-05-03T21:10:00", "d2": "2027-07-30T10:00:00", "p": 30.8}]},
          "mark": {"type": "rule", "color": "#2a2e39", "strokeWidth": 1.5},
          "encoding": {"x2": {"field": "d2"}}
        },
        {
          "data": {"values": [{"d": "2024-05-03T21:10:00", "p": 70.33, "t": "Jesusle creado con TradingView.com,"}]},
          "mark": {"type": "text", "align": "left", "baseline": "middle", "font": "Open Sans", "fontSize": 14.4, "color": "#dddddd"},
          "encoding": {"text": {"field": "t"}}
        }
      ]
    },
    {
      "width": 1787,
      "height": 280,
      "view": {
        "stroke": "#8a8a8a",
        "fill": {"gradient": "linear", "x1": 0, "y1": 0, "x2": 0, "y2": 1, "stops": [{"offset": 0, "color": "#ffffff"}, {"offset": 1, "color": "#d6d6d6"}]}
      },
      "resolve": {"scale": {"color": "independent", "stroke": "independent"}},
      "encoding": {
        "x": {
          "field": "d", "type": "temporal",
          "scale": {"domain": ["2024-05-03T21:10:00", "2027-07-30T10:00:00"], "nice": false, "padding": 0},
          "axis": {
            "orient": "bottom", "offset": -23, "labelPadding": 0, "labelOverlap": false,
            "values": ["2024-07-01", "2024-09-02", "2024-11-04", "2025-01-06", "2025-03-03", "2025-05-05", "2025-07-07", "2025-09-01", "2025-11-03", "2026-01-05", "2026-03-02", "2026-05-04", "2026-07-06", "2026-09-07", "2026-11-02", "2027-01-04", "2027-03-01", "2027-05-03"],
            "labelExpr": "month(datum.value) == 0 ? timeFormat(datum.value, '%Y') : ['Ene','Feb','Mar','Abr','Mayo','Jun','Jul','Ago','Sep','Oct','Nov','Dic'][month(datum.value)]",
            "labelFontWeight": {"condition": {"test": "month(datum.value) == 0", "value": "bold"}, "value": "normal"}
          }
        },
        "y": {
          "field": "p", "type": "quantitative",
          "scale": {"domain": [-150.02, -34.56], "nice": false},
          "axis": {"orient": "right", "offset": -65, "labelPadding": 0, "labelAlign": "left", "labelOffset": -1, "values": [-40, -60, -80, -100, -120], "labelExpr": "replace(format(datum.value, '.2f'), '.', ',')"}
        }
      },
      "layer": [
        {
          "data": {"values": [{"d": "2024-05-03T21:10:00", "d2": "2027-06-10", "p": -50, "p2": -90}]},
          "mark": {"type": "rect", "fill": "#a020f0", "fillOpacity": 0.1},
          "encoding": {"x2": {"field": "d2"}, "y2": {"field": "p2"}}
        },
        {
          "data": {"values": [{"d": "2024-05-03T21:10:00", "d2": "2027-06-10", "p": -50}]},
          "mark": {"type": "rule", "color": "#ef5350", "strokeWidth": 1.2},
          "encoding": {"x2": {"field": "d2"}}
        },
        {
          "data": {"values": [{"d": "2024-05-03T21:10:00", "d2": "2027-06-10", "p": -90}]},
          "mark": {"type": "rule", "color": "#4caf50", "strokeWidth": 1.2},
          "encoding": {"x2": {"field": "d2"}}
        },
        {
          "data": {"values": [{"d": "2024-05-03T21:10:00", "d2": "2027-06-10", "p": -70}]},
          "mark": {"type": "rule", "color": "#ffffff", "strokeWidth": 1, "strokeDash": [4, 4]},
          "encoding": {"x2": {"field": "d2"}}
        },
        {
          "data": {"name": "rsi"},
          "mark": {"type": "line", "color": "#7b1186", "strokeWidth": 2.4, "clip": true}
        },
        {
          "data": {"name": "hist"},
          "mark": {"type": "bar", "size": 9.5},
          "encoding": {
            "y2": {"datum": -119.64},
            "color": {"field": "tono", "type": "nominal", "legend": null, "scale": {"domain": ["S", "L", "GS", "GL"], "range": ["#f55a5a", "#ffcdd2", "#26a69a", "#b2dfdb"]}}
          }
        },
        {
          "data": {"values": [{"d": "2024-05-03T21:10:00", "d2": "2026-07-27", "p": -119.64}]},
          "mark": {"type": "rule", "color": "#ffffff", "strokeWidth": 1.5},
          "encoding": {"x2": {"field": "d2"}}
        },
        {
          "data": {"name": "macd"},
          "mark": {"type": "line", "strokeWidth": 1.3, "clip": true},
          "encoding": {
            "stroke": {"field": "serie", "type": "nominal", "legend": null, "scale": {"domain": ["macd", "senal"], "range": ["#2196f3", "#ff6d00"]}}
          }
        },
        {
          "data": {"values": [{"d": "2024-05-16", "p": -44.58, "t": "···"}]},
          "mark": {"type": "text", "baseline": "middle", "font": "Open Sans", "fontSize": 14, "fontWeight": 700, "color": "#b2b5be"},
          "encoding": {"text": {"field": "t"}}
        },
        {
          "data": {"values": [{"d": "2024-05-06", "p": -143.4, "t": "Mayo"}]},
          "mark": {"type": "text", "baseline": "middle", "font": "Open Sans", "fontSize": 13.5, "color": "#b2b5be", "clip": true},
          "encoding": {"text": {"field": "t"}}
        },
        {
          "data": {"values": [{"d": "2024-05-18", "p": -165.7}]},
          "mark": {"type": "point", "shape": "M-1,-0.51 L-0.15,-0.51 L-0.15,0.51 L-0.59,0.51 L-0.59,-0.14 L-1,-0.14 Z M0.56,-0.51 L1,-0.51 L0.6,0.51 L0.15,0.51 Z M-0.03,-0.32 A0.18,0.18 0 1 1 0.33,-0.32 A0.18,0.18 0 1 1 -0.03,-0.32 Z", "size": 1418, "filled": true, "color": "#e0e0e0", "opacity": 1}
        },
        {
          "data": {"values": [{"d": "2024-06-05", "p": -166.1, "t": "TradingView"}]},
          "mark": {"type": "text", "align": "left", "baseline": "middle", "font": "Inter", "fontSize": 25.5, "fontWeight": 500, "color": "#e0e0e0"},
          "encoding": {"text": {"field": "t"}}
        }
      ]
    }
  ]
}
